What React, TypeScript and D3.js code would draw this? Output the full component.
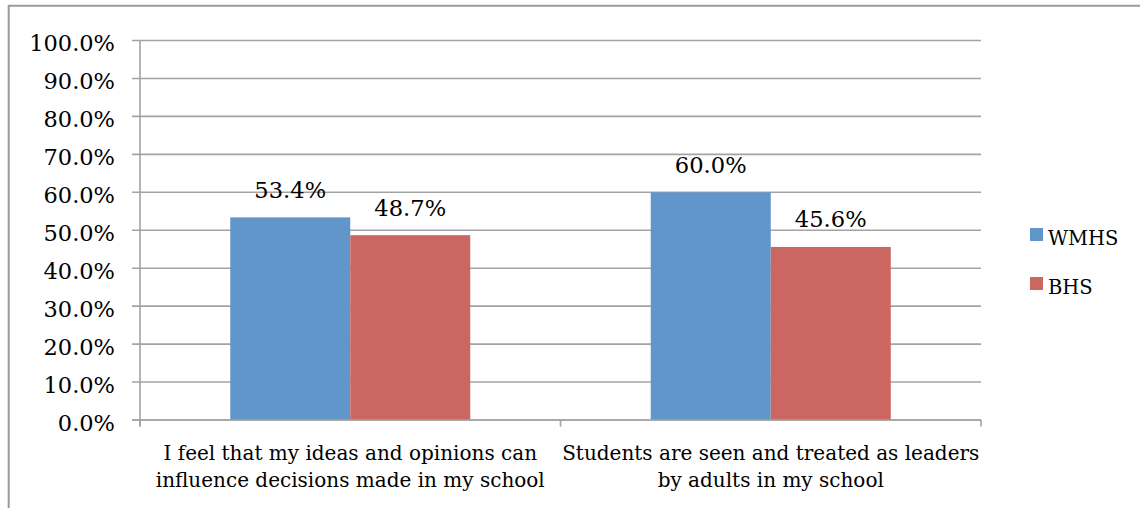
import React from "react";
import * as d3 from "d3";

// Survey statements (x categories), split into display lines
const categories = [
  "I feel that my ideas and opinions can influence decisions made in my school",
  "Students are seen and treated as leaders by adults in my school",
];
const categoryLines = [
  ["I feel that my ideas and opinions can", "influence decisions made in my school"],
  ["Students are seen and treated as leaders", "by adults in my school"],
];
const seriesNames = ["WMHS", "BHS"];
const seriesColors = ["#6096CA", "#CC6660"];
const wmhsValues = [0.534, 0.6];
const bhsValues = [0.487, 0.456];
const yTicks = [0, 0.1, 0.2, 0.3, 0.4, 0.5, 0.6, 0.7, 0.8, 0.9, 1.0];

const W = 1140;
const H = 508;
const FONT = "'DejaVu Serif', serif";
const GRID = "#A3A3A3";

export default function App() {
  const values = [wmhsValues, bhsValues];
  const x0 = d3.scaleBand<string>().domain(categories).range([140, 981]).padding(0);
  const x1 = d3
    .scaleBand<string>()
    .domain(seriesNames)
    .range([0, x0.bandwidth()])
    .paddingInner(0)
    .paddingOuter(0.752);
  const y = d3.scaleLinear().domain([0, 1]).range([420, 40.5]);
  const pct = d3.format(".1%");
  const [xl, xr] = x0.range();

  return (
    <div style={{ position: "absolute", left: 0, top: 0, background: "#fff" }}>
      <svg width={W} height={H} style={{ display: "block" }} fontFamily={FONT}>
        <rect x={0} y={0} width={W} height={H} fill="#fff" />
        {/* chart frame */}
        <line x1={8.7} x2={8.7} y1={5} y2={H} stroke="#9A9A9A" strokeWidth={2} />
        <line x1={8} x2={W} y1={5.7} y2={5.7} stroke="#9A9A9A" strokeWidth={2} />

        {/* gridlines, y ticks and labels */}
        {yTicks.map((t) => (
          <g key={t}>
            <line x1={132} x2={xr} y1={y(t)} y2={y(t)} stroke={GRID} strokeWidth={1.6} />
            <text x={115} y={y(t) + 10.5} textAnchor="end" fontSize={22.5} fill="#000">
              {pct(t)}
            </text>
          </g>
        ))}
        {/* y axis */}
        <line x1={xl} x2={xl} y1={y(1)} y2={426.5} stroke={GRID} strokeWidth={1.6} />

        {/* bars */}
        {categories.map((c, ci) => (
          <g key={c} transform={`translate(${x0(c)},0)`}>
            {seriesNames.map((s, si) => {
              const v = values[si][ci];
              const bx = x1(s)!;
              return (
                <g key={s}>
                  <rect
                    x={bx}
                    y={y(v)}
                    width={x1.bandwidth()}
                    height={y(0) - y(v)}
                    fill={seriesColors[si]}
                  />
                  <text
                    x={bx + x1.bandwidth() / 2}
                    y={y(v) - 19.5}
                    textAnchor="middle"
                    fontSize={22.6}
                    fill="#000"
                  >
                    {pct(v)}
                  </text>
                </g>
              );
            })}
          </g>
        ))}

        {/* x axis with category ticks */}
        <line x1={132} x2={xr} y1={y(0)} y2={y(0)} stroke={GRID} strokeWidth={1.6} />
        {[...categories.map((c) => x0(c)!), xr].map((tx, i) => (
          <line key={i} x1={tx} x2={tx} y1={y(0)} y2={426.5} stroke={GRID} strokeWidth={1.6} />
        ))}
        {categories.map((c, ci) => (
          <text
            key={c}
            x={x0(c)! + x0.bandwidth() / 2}
            textAnchor="middle"
            fontSize={20}
            fill="#000"
          >
            {categoryLines[ci].map((ln, li) => (
              <tspan key={li} x={x0(c)! + x0.bandwidth() / 2} y={460 + li * 27}>
                {ln}
              </tspan>
            ))}
          </text>
        ))}

        {/* legend */}
        {seriesNames.map((s, si) => (
          <g key={s} transform={`translate(1030,${228 + si * 49})`}>
            <rect x={0} y={0} width={13} height={13} fill={seriesColors[si]} />
            <text x={18} y={17} fontSize={19.5} fill="#000">
              {s}
            </text>
          </g>
        ))}
      </svg>
    </div>
  );
}
